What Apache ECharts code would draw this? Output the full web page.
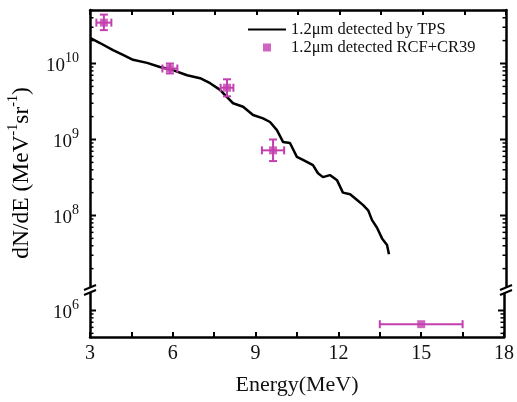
<!DOCTYPE html>
<html><head><meta charset="utf-8">
<script src="https://cdn.jsdelivr.net/npm/echarts@6/dist/echarts.min.js"></script>
<style>html,body{margin:0;padding:0;background:#fff}#c{width:517px;height:402px}</style>
</head><body><div id="c"></div>
<script>
// ---- data ----
const tpsEnergy = [3.02,3.36,3.83,4.19,4.55,5.06,5.52,5.99,6.50,6.97,7.33,7.69,7.94,8.16,8.52,8.88,9.24,9.49,9.74,9.96,10.21,10.46,10.68,11.04,11.22,11.40,11.65,11.91,12.12,12.38,12.63,12.85,13.03,13.17,13.35,13.53,13.71,13.78];
const tpsDNdE   = [2.15e10,1.86e10,1.5e10,1.3e10,1.12e10,1.02e10,9.0e9,8.2e9,7.0e9,6.4e9,5.5e9,4.5e9,3.6e9,3.0e9,2.7e9,2.1e9,1.9e9,1.7e9,1.33e9,9.3e8,9.0e8,5.9e8,5.4e8,4.6e8,3.6e8,3.2e8,3.4e8,2.9e8,2.0e8,1.9e8,1.6e8,1.37e8,1.17e8,8.7e7,6.9e7,5.0e7,4.1e7,3.1e7];

const rcfEnergy = [3.5, 5.88, 7.94, 9.6];
const rcfDNdE   = [3.45e10, 8.6e9, 4.8e9, 7.2e8];
const rcfEErr   = [0.27, 0.27, 0.23, 0.4];
const rcfLow    = [2.75e10, 7.4e9, 3.7e9, 5.2e8];
const rcfHigh   = [4.4e10, 1.0e10, 6.2e9, 1.0e9];

const rcfLowEnergy = [15];
const rcfLowDNdE   = [6.6e5];
const rcfLowEErr   = [1.5];

const xTicks = [3, 6, 9, 12, 15, 18];

const TPS_NAME = '1.2\u03bcm detected by TPS';
const RCF_NAME = '1.2\u03bcm detected RCF+CR39';

// ---- layout / style ----
const FONT = 'Liberation Serif';
const MAG = '#C43FAF';
const L = 90, R = 506, TOP = 10, BRK = 289, BOT = 337;
const upperMin = Math.pow(10, 7.033), upperMax = Math.pow(10, 10.704);
const lowerMin = Math.pow(10, 5.651), lowerMax = Math.pow(10, 6.283);

function pairs(xs, ys){ return xs.map((x,i)=>[x, ys[i]]); }
function logTicks(mn, mx){
  const out = [];
  for (let d = Math.floor(Math.log10(mn)); d <= Math.ceil(Math.log10(mx)); d++) {
    for (let k = 1; k <= 9; k++) { const v = k*Math.pow(10,d); if (v > mn && v < mx) out.push([xTicks[0], v, k===1?1:0]); }
  }
  return out;
}
const labelFmt = v => { const e = Math.log10(v), r = Math.round(e); if (Math.abs(e-r) > 1e-6) return ''; return '{b|10}{s|' + r + '}'; };
const labelRich = { b:{fontFamily:FONT,fontSize:19,color:'#111',lineHeight:25,verticalAlign:'bottom'}, s:{fontFamily:FONT,fontSize:14,color:'#111',verticalAlign:'top',lineHeight:14} };

function yAx(grid, mn, mx, right){
  return { type:'log', logBase:10, gridIndex:grid, min:mn, max:mx, position:right?'right':'left',
    axisLine:{show:true,lineStyle:{color:'#000',width:2.5}}, axisTick:{show:false}, splitLine:{show:false},
    axisLabel:{show:!right, showMinLabel:false, showMaxLabel:false, formatter:labelFmt, rich:labelRich, margin:11} };
}
function xAx(grid, bottom){
  return { type:'value', gridIndex:grid, min:3, max:18, interval:1.5, position:bottom?'bottom':'top',
    axisLine:{show:true,lineStyle:{color:'#000',width:2.5}},
    axisTick:{show:true,inside:true,length:5,lineStyle:{color:'#000',width:2}},
    splitLine:{show:false},
    axisLabel:{show:bottom, margin:7, fontFamily:FONT, fontSize:20, color:'#111', formatter:v=> xTicks.indexOf(v)>=0 ? String(v) : ''},
    name: bottom ? 'Energy(MeV)' : '', nameLocation:'middle', nameGap:37,
    nameTextStyle:{fontFamily:FONT,fontSize:22,color:'#111'} };
}
function tickSeries(xi, yi, mn, mx){
  return { type:'custom', xAxisIndex:xi, yAxisIndex:yi, silent:true, z:5, data:logTicks(mn,mx),
    renderItem:(p, api)=>{
      const v = api.value(1), major = api.value(2)===1, len = major?6:3.5;
      const a = api.coord([3, v]), b = api.coord([18, v]);
      const st = {stroke:'#000', lineWidth: major?2:1.5};
      return {type:'group', children:[
        {type:'line', shape:{x1:a[0],y1:a[1],x2:a[0]+len,y2:a[1]}, style:st},
        {type:'line', shape:{x1:b[0],y1:b[1],x2:b[0]-len,y2:b[1]}, style:st}
      ]};
    } };
}
function errSeries(xi, yi, data){
  return { type:'custom', xAxisIndex:xi, yAxisIndex:yi, silent:true, z:4, data:data,
    renderItem:(p, api)=>{
      const x=api.value(0), y=api.value(1), xe=api.value(2), lo=api.value(3), hi=api.value(4);
      const l=api.coord([x-xe,y]), r=api.coord([x+xe,y]);
      const st={stroke:MAG, lineWidth:2};
      const ch=[
        {type:'line', shape:{x1:l[0],y1:l[1],x2:r[0],y2:r[1]}, style:st},
        {type:'line', shape:{x1:l[0],y1:l[1]-4,x2:l[0],y2:l[1]+4}, style:st},
        {type:'line', shape:{x1:r[0],y1:r[1]-4,x2:r[0],y2:r[1]+4}, style:st}];
      if (hi > lo) {
        const t=api.coord([x,hi]), b=api.coord([x,lo]);
        ch.push({type:'line', shape:{x1:t[0],y1:t[1],x2:b[0],y2:b[1]}, style:st},
                {type:'line', shape:{x1:t[0]-4,y1:t[1],x2:t[0]+4,y2:t[1]}, style:st},
                {type:'line', shape:{x1:b[0]-4,y1:b[1],x2:b[0]+4,y2:b[1]}, style:st});
      }
      return {type:'group', children:ch};
    } };
}
function breakMark(x){
  return [
    {type:'polygon', shape:{points:[[x-6,BRK+1],[x+6,BRK-4],[x+6,BRK+1],[x-6,BRK+6]]}, style:{fill:'#fff'}, z:100},
    {type:'line', shape:{x1:x-6,y1:BRK+1,x2:x+6,y2:BRK-4}, style:{stroke:'#000',lineWidth:2}, z:101},
    {type:'line', shape:{x1:x-6,y1:BRK+6,x2:x+6,y2:BRK+1}, style:{stroke:'#000',lineWidth:2}, z:101}
  ];
}

const chart = echarts.init(document.getElementById('c'));
chart.setOption({
  backgroundColor:'#fff',
  animation:false,
  grid:[
    {left:L, width:R-L, top:TOP, height:BRK-TOP},
    {left:L, width:R-L, top:BRK, height:BOT-BRK}
  ],
  xAxis:[xAx(0,false), xAx(1,true)],
  yAxis:[yAx(0,upperMin,upperMax,false), yAx(0,upperMin,upperMax,true), yAx(1,lowerMin,lowerMax,false), yAx(1,lowerMin,lowerMax,true)],
  legend:{left:242, top:16, orient:'vertical', itemWidth:38, itemHeight:8, itemGap:1,
    textStyle:{fontFamily:FONT, fontSize:16.5, color:'#111'},
    data:[
      {name:TPS_NAME, itemStyle:{opacity:0}},
      {name:RCF_NAME, icon:'path://M0,0 M38,8 M15,0 L23,0 L23,8 L15,8 Z'}
    ]},
  series:[
    tickSeries(0,0,upperMin,upperMax),
    tickSeries(1,2,lowerMin,lowerMax),
    errSeries(0,0, rcfEnergy.map((e,i)=>[e, rcfDNdE[i], rcfEErr[i], rcfLow[i], rcfHigh[i]])),
    errSeries(1,2, rcfLowEnergy.map((e,i)=>[e, rcfLowDNdE[i], rcfLowEErr[i], rcfLowDNdE[i], rcfLowDNdE[i]])),
    {name:TPS_NAME, type:'line', xAxisIndex:0, yAxisIndex:0, data:pairs(tpsEnergy,tpsDNdE), symbol:'none', showSymbol:false,
      lineStyle:{color:'#000', width:2.5}, itemStyle:{color:'#000'}, z:3},
    {name:RCF_NAME, type:'scatter', xAxisIndex:0, yAxisIndex:0, data:pairs(rcfEnergy,rcfDNdE), symbol:'square', symbolSize:8, itemStyle:{color:MAG}, z:6},
    {name:RCF_NAME, type:'scatter', xAxisIndex:1, yAxisIndex:2, data:pairs(rcfLowEnergy,rcfLowDNdE), symbol:'square', symbolSize:8, itemStyle:{color:MAG}, z:6}
  ],
  graphic:[
    ...breakMark(L), ...breakMark(R),
    {type:'text', x:20, y:173, rotation:Math.PI/2, z:100,
      style:{text:'{a|dN/dE (MeV}{s|-1}{a|sr}{s|-1}{a|)}', align:'center', verticalAlign:'middle',
        rich:{a:{fontFamily:FONT,fontSize:23.5,color:'#111',lineHeight:28,verticalAlign:'bottom'}, s:{fontFamily:FONT,fontSize:14,color:'#111',verticalAlign:'top',lineHeight:14}}}}
  ]
});
</script></body></html>
